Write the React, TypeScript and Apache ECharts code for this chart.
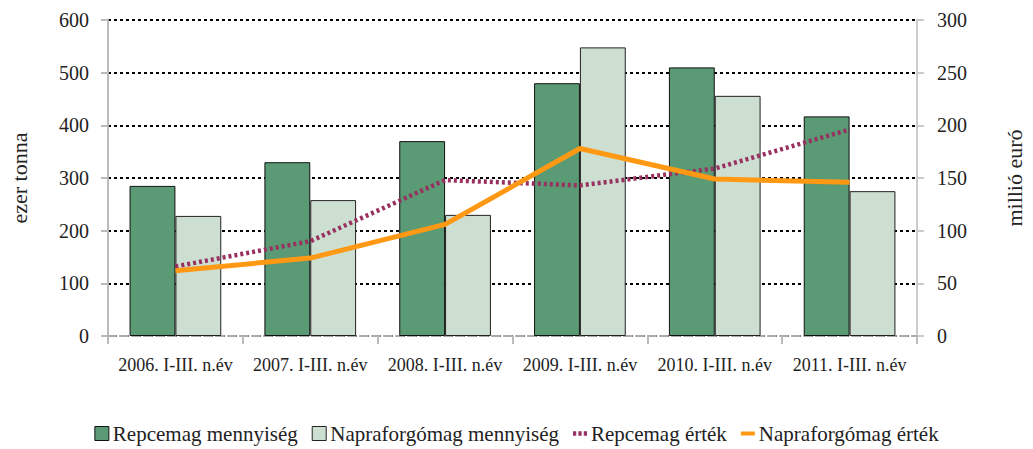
import React, { useEffect, useRef } from "react";
import * as echarts from "echarts";

const categories = [
  "2006. I-III. n.év",
  "2007. I-III. n.év",
  "2008. I-III. n.év",
  "2009. I-III. n.év",
  "2010. I-III. n.év",
  "2011. I-III. n.év",
];
const repceMennyiseg = [285, 330, 370, 480, 510, 417];
const napraMennyiseg = [228, 258, 230, 548, 456, 275];
const repceErtek = [66, 90, 148, 143, 159, 196];
const napraErtek = [62, 74, 106, 178, 149, 146];

const FONT = "Liberation Serif";

export default function App() {
  const ref = useRef<HTMLDivElement>(null);
  useEffect(() => {
    if (!ref.current) return;
    const chart = echarts.init(ref.current, undefined, { renderer: "svg" });
    chart.setOption({
      animation: false,
      textStyle: { fontFamily: FONT, color: "#222" },
      grid: { left: 107, right: 109, top: 20, bottom: 113 },
      legend: {
        bottom: 0,
        left: "center",
        itemGap: 14,
        itemWidth: 14,
        itemHeight: 14,
        symbolKeepAspect: true,
        textStyle: { fontFamily: FONT, fontSize: 21, color: "#222", padding: [0, 0, 0, -1] },
        data: [
          { name: "Repcemag mennyiség", icon: "rect", itemStyle: { borderColor: "#111", borderWidth: 1 } },
          { name: "Napraforgómag mennyiség", icon: "rect", itemStyle: { borderColor: "#222", borderWidth: 1 } },
          {
            name: "Repcemag érték",
            icon: "path://M0,0H3V4H0ZM5,0H8V4H5ZM10,0H13V4H10Z",
          },
          { name: "Napraforgómag érték", icon: "path://M0,0H14V4H0Z" },
        ],
      },
      xAxis: {
        type: "category",
        data: categories,
        boundaryGap: true,
        axisLine: { lineStyle: { color: "#aaaaaa", width: 2, type: "dashed" } },
        axisTick: { show: true, length: 8, lineStyle: { color: "#bbbbbb", width: 2 } },
        axisLabel: { fontFamily: FONT, fontSize: 18, color: "#222", margin: 20, interval: 0 },
        splitLine: { show: false },
      },
      yAxis: [
        {
          type: "value",
          min: 0,
          max: 600,
          interval: 100,
          name: "ezer tonna",
          nameLocation: "middle",
          nameRotate: 90,
          nameGap: 78,
          nameTextStyle: { fontFamily: FONT, fontSize: 22, color: "#222" },
          axisLine: { show: true, lineStyle: { color: "#bbbbbb", width: 2 } },
          axisTick: { show: true, length: 7, lineStyle: { color: "#bbbbbb", width: 2 } },
          axisLabel: { fontFamily: FONT, fontSize: 20, color: "#222", margin: 19 },
          splitLine: { show: true, lineStyle: { color: "#000", type: [3, 3], width: 2 } },
        },
        {
          type: "value",
          min: 0,
          max: 300,
          interval: 50,
          name: "millió euró",
          nameLocation: "middle",
          nameRotate: 90,
          nameGap: 86,
          nameTextStyle: { fontFamily: FONT, fontSize: 22, color: "#222" },
          axisLine: { show: true, lineStyle: { color: "#cccccc", width: 2 } },
          axisTick: { show: true, length: 7, lineStyle: { color: "#cccccc", width: 2 } },
          axisLabel: { fontFamily: FONT, fontSize: 20, color: "#222", margin: 20 },
          splitLine: { show: false },
        },
      ],
      series: [
        {
          name: "Repcemag mennyiség",
          type: "bar",
          data: repceMennyiseg,
          barGap: "0%",
          barCategoryGap: "32%",
          itemStyle: { color: "#5a9a74", borderColor: "#111", borderWidth: 1 },
        },
        {
          name: "Napraforgómag mennyiség",
          type: "bar",
          data: napraMennyiseg,
          barGap: "0%",
          barCategoryGap: "32%",
          itemStyle: { color: "#cddfd1", borderColor: "#222", borderWidth: 1 },
        },
        {
          name: "Repcemag érték",
          type: "line",
          yAxisIndex: 1,
          data: repceErtek,
          symbol: "none",
          itemStyle: { color: "#983060" },
          lineStyle: { color: "#983060", width: 4.5, type: [3, 3] },
        },
        {
          name: "Napraforgómag érték",
          type: "line",
          yAxisIndex: 1,
          data: napraErtek,
          symbol: "none",
          itemStyle: { color: "#ff9914" },
          lineStyle: { color: "#ff9914", width: 5 },
        },
      ],
    });
    return () => chart.dispose();
  }, []);
  return <div ref={ref} style={{ width: 1033, height: 449, position: "absolute", left: 0, top: 0, background: "#fff" }} />;
}
